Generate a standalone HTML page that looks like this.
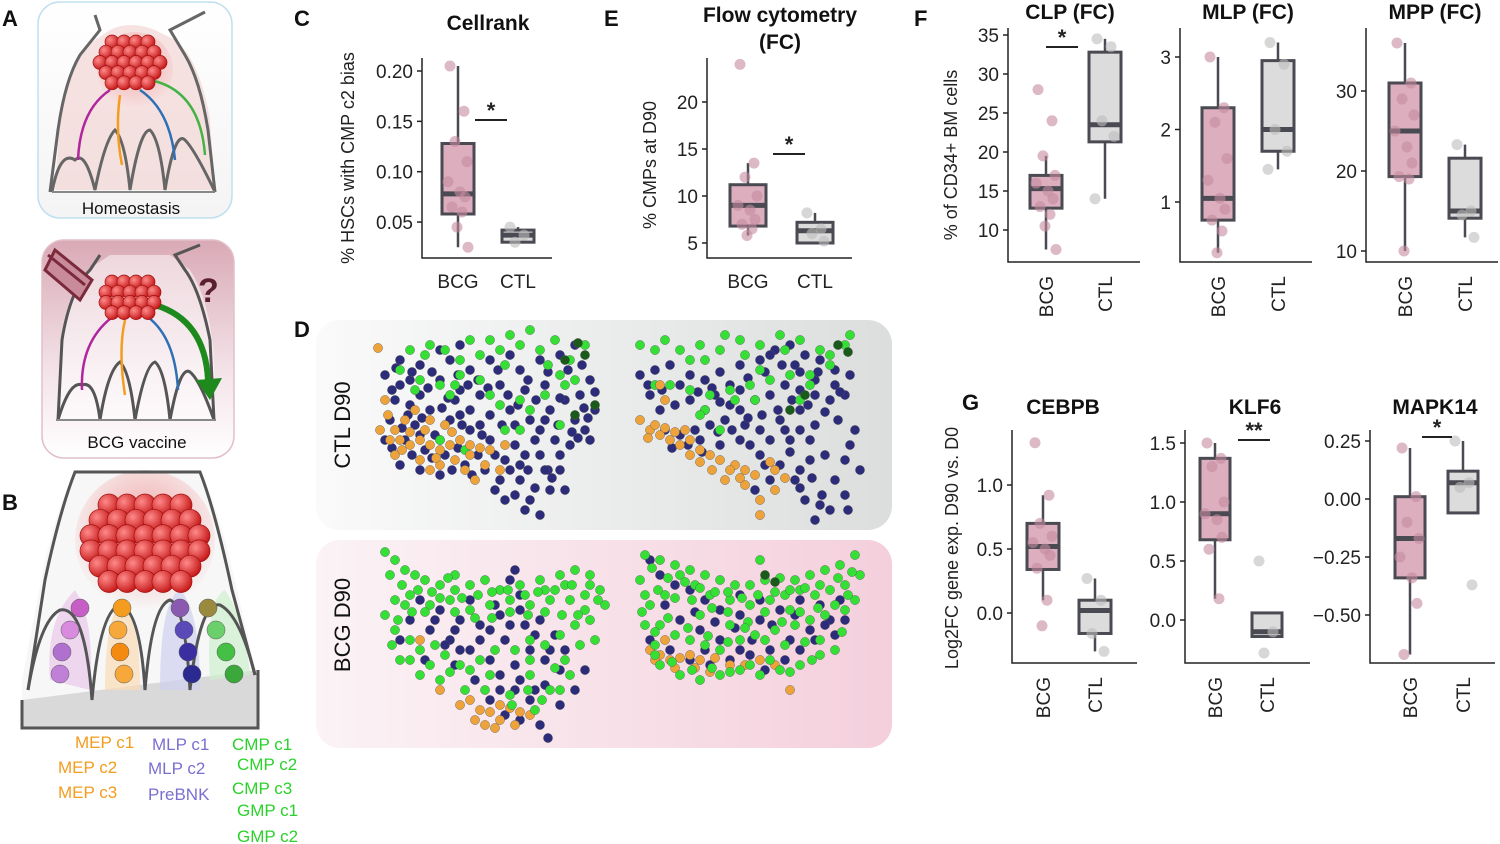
<!DOCTYPE html>
<html><head><meta charset="utf-8">
<style>
html,body{margin:0;padding:0;background:#fff;}
svg{display:block;font-family:"Liberation Sans",Arial,sans-serif;}
</style></head>
<body>
<svg id="fig" width="1500" height="844" viewBox="0 0 1500 844" xmlns="http://www.w3.org/2000/svg">
<defs>
<linearGradient id="gA" x1="0" y1="0" x2="0" y2="1"><stop offset="0" stop-color="#fff"/><stop offset="1" stop-color="#f4f4f4"/></linearGradient>
<linearGradient id="gA2" x1="0" y1="0" x2="0" y2="1"><stop offset="0" stop-color="#d9a9b6"/><stop offset="0.6" stop-color="#f3e3e8"/><stop offset="1" stop-color="#fff"/></linearGradient>
<linearGradient id="gD1" x1="0" y1="0" x2="1" y2="0"><stop offset="0" stop-color="#fafafa"/><stop offset="1" stop-color="#dcdede"/></linearGradient>
<linearGradient id="gD2" x1="0" y1="0" x2="1" y2="0"><stop offset="0" stop-color="#fbf3f6"/><stop offset="1" stop-color="#f4cfdc"/></linearGradient>
<radialGradient id="ball" cx="0.35" cy="0.35" r="0.7"><stop offset="0" stop-color="#ff8a8a"/><stop offset="1" stop-color="#c41414"/></radialGradient>
<radialGradient id="glow" cx="0.5" cy="0.4" r="0.6"><stop offset="0" stop-color="#f2a5a5"/><stop offset="1" stop-color="#f2a5a5" stop-opacity="0"/></radialGradient>
</defs>

<g font-weight="bold" font-size="22" fill="#111">
<text x="2" y="26">A</text>
<text x="2" y="510">B</text>
<text x="294" y="26">C</text>
<text x="294" y="337">D</text>
<text x="604" y="26">E</text>
<text x="914" y="26">F</text>
<text x="962" y="410">G</text>
</g>

<g>
<rect x="38" y="2" width="194" height="216" rx="22" fill="url(#gA)" stroke="#bfe0f0" stroke-width="1.5"/>
<path d="M55 190 L60 120 Q70 60 95 40 L110 30 Q130 20 155 30 L175 40 Q200 60 210 120 L215 190 Z" fill="#f3d6d6" opacity="0.7"/>
<path d="M50 192 L58 130 Q65 80 80 55 L100 30 L95 15 M215 192 L208 130 Q200 80 185 55 L170 30 L205 12" fill="none" stroke="#666" stroke-width="3"/>
<path d="M52 192 Q60 150 75 160 Q85 150 95 190 Q105 140 115 130 Q125 140 130 190 Q140 130 150 130 Q160 140 165 190 Q175 130 185 140 Q195 150 215 192 L215 192" fill="none" stroke="#666" stroke-width="3"/>
<path d="M52 192 L215 192" stroke="#888" stroke-width="2"/>
<circle cx="135" cy="70" r="38" fill="url(#glow)"/>
<path d="M110 90 Q80 110 78 160" stroke="#b0269c" stroke-width="2.5" fill="none"/>
<path d="M120 95 Q115 130 122 165" stroke="#f39c1f" stroke-width="2.5" fill="none"/>
<path d="M140 90 Q170 110 175 160" stroke="#2e6fb5" stroke-width="2.5" fill="none"/>
<path d="M150 80 Q200 90 205 155" stroke="#44b244" stroke-width="2.5" fill="none"/>
<text x="131" y="214" font-size="17" text-anchor="middle" fill="#111">Homeostasis</text>
</g>
<g>
<rect x="42" y="240" width="192" height="218" rx="22" fill="url(#gA2)" stroke="#e2bfc9" stroke-width="1.5"/>
<path d="M58 420 L62 330 Q72 280 95 265 L110 255 L170 255 L190 270 Q210 300 214 360 L216 420 Z" fill="#fff" opacity="0.5"/>
<path d="M58 420 L62 340 Q70 290 90 270 L100 255 M214 420 L210 340 Q200 290 185 270 L175 255 L200 245" fill="none" stroke="#555" stroke-width="3"/>
<path d="M58 420 Q70 380 82 385 Q95 380 100 420 Q108 370 120 362 Q130 372 135 420 Q145 365 155 362 Q165 370 170 420 Q180 365 190 372 Q200 380 214 420" fill="none" stroke="#555" stroke-width="3"/>
<path d="M56 420 L216 420" stroke="#888" stroke-width="2"/>
<path d="M115 315 Q80 340 82 390" stroke="#b0269c" stroke-width="2.5" fill="none"/>
<path d="M125 320 Q118 350 125 395" stroke="#f39c1f" stroke-width="2.5" fill="none"/>
<path d="M145 315 Q175 335 178 390" stroke="#2e6fb5" stroke-width="2.5" fill="none"/>
<path d="M155 305 Q205 320 208 380" stroke="#1e8a1e" stroke-width="6" fill="none"/>
<polygon points="196,380 222,378 210,400" fill="#1e8a1e"/>
<path d="M48 255 L85 285 M55 250 L92 280 L80 300 L45 270 Z" stroke="#7a2a3a" stroke-width="3" fill="#c98a9a"/>
<text x="198" y="302" font-size="34" font-weight="bold" fill="#5a1f2e">?</text>
<text x="137" y="448" font-size="17" text-anchor="middle" fill="#111">BCG vaccine</text>
</g>

<g>
<path d="M22 720 L22 680 L45 560 Q60 500 75 470 L200 470 Q215 500 230 560 L258 680 L258 720 Z" fill="#f7f7f7"/>
<path d="M22 728 L258 728 L258 670 L22 700 Z" fill="#d9d9d9"/>
<circle cx="145" cy="540" r="70" fill="url(#glow)"/>
<path d="M50 680 Q45 620 75 590 Q95 620 90 690 Z" fill="#e8c8ea" opacity="0.7"/>
<path d="M105 690 Q105 610 125 600 Q140 620 140 690 Z" fill="#fbdcb5" opacity="0.7"/>
<path d="M160 690 Q160 600 180 590 Q200 610 200 690 Z" fill="#cfd0f0" opacity="0.7"/>
<path d="M210 680 Q205 600 225 590 Q245 620 250 675 Z" fill="#cdeecd" opacity="0.7"/>
<path d="M28 690 L45 580 Q60 510 75 472 L200 472 Q215 510 232 590 L255 675" fill="none" stroke="#555" stroke-width="3"/>
<path d="M28 690 Q40 620 60 610 Q85 605 92 700 Q100 610 120 605 Q140 610 145 690 Q152 605 170 600 Q185 605 190 690 Q200 600 220 605 Q240 615 255 675" fill="none" stroke="#555" stroke-width="3"/>
<path d="M22 700 L22 728 L258 728 L258 670" fill="none" stroke="#555" stroke-width="3"/>
</g>
<g id="balls"></g>
<g font-size="17">
<text x="75" y="748" fill="#f39c1f">MEP c1</text>
<text x="58" y="773" fill="#f39c1f">MEP c2</text>
<text x="58" y="798" fill="#f39c1f">MEP c3</text>
<text x="152" y="750" fill="#7a6fcf">MLP c1</text>
<text x="148" y="774" fill="#7a6fcf">MLP c2</text>
<text x="148" y="800" fill="#7a6fcf">PreBNK</text>
<text x="232" y="750" fill="#2bd22b">CMP c1</text>
<text x="237" y="770" fill="#2bd22b">CMP c2</text>
<text x="232" y="794" fill="#2bd22b">CMP c3</text>
<text x="237" y="816" fill="#2bd22b">GMP c1</text>
<text x="237" y="842" fill="#2bd22b">GMP c2</text>
</g>

<rect x="316" y="320" width="576" height="210" rx="24" fill="url(#gD1)"/>
<rect x="316" y="540" width="576" height="208" rx="24" fill="url(#gD2)"/>
<text transform="translate(350,425) rotate(-90)" font-size="22" text-anchor="middle" fill="#111">CTL D90</text>
<text transform="translate(350,625) rotate(-90)" font-size="22" text-anchor="middle" fill="#111">BCG D90</text>
<g id="umap"></g>
<g id="plots"></g>
</svg>

<script>
// ---------- Box plot data: [min, q1, median, q3, max] ----------
const cellrankBCG = [0.025, 0.058, 0.078, 0.128, 0.205];
const cellrankCTL = [0.03, 0.03, 0.037, 0.042, 0.045];
const cellrankPtsBCG = [0.205, 0.16, 0.13, 0.11, 0.09, 0.08, 0.075, 0.065, 0.06, 0.045, 0.025];
const cellrankPtsCTL = [0.045, 0.037, 0.03];
const flowBCG = [5.8, 6.8, 9, 11.2, 13.5];
const flowCTL = [5, 5, 6.3, 7.2, 8.2];
const flowPtsBCG = [24, 13.5, 12, 10, 9, 8.5, 7.5, 7, 6.5, 5.8];
const flowPtsCTL = [8.2, 6.5, 6, 5.2];
const clpBCG = [7.5, 12.8, 15.3, 17, 19.5];
const clpCTL = [14, 21.3, 23.5, 32.8, 34.5];
const clpPtsBCG = [28, 24, 19.5, 17, 16, 15, 14, 13, 12, 10.5, 7.5];
const clpPtsCTL = [34.5, 33.5, 24, 22, 14];
const mlpBCG = [0.3, 0.75, 1.05, 2.3, 3.0];
const mlpCTL = [1.45, 1.7, 2.0, 2.95, 3.2];
const mlpPtsBCG = [3.0, 2.3, 2.1, 1.6, 1.3, 1.05, 0.9, 0.75, 0.6, 0.3];
const mlpPtsCTL = [3.2, 2.9, 2.0, 1.7, 1.45];
const mppBCG = [10, 19.3, 25, 31, 36];
const mppCTL = [11.7, 14.1, 15, 21.6, 23.3];
const mppPtsBCG = [36, 31, 29, 27, 25, 23, 21, 19.3, 19, 10];
const mppPtsCTL = [23.3, 15, 14.5, 11.7];
const cebpbBCG = [0.1, 0.34, 0.52, 0.7, 0.92];
const cebpbCTL = [-0.3, -0.16, 0.02, 0.1, 0.27];
const cebpbPtsBCG = [1.33, 0.92, 0.7, 0.6, 0.55, 0.5, 0.45, 0.35, 0.1, -0.1];
const cebpbPtsCTL = [0.27, 0.1, -0.16, -0.3];
const klf6BCG = [0.18, 0.68, 0.9, 1.37, 1.5];
const klf6CTL = [-0.14, -0.14, -0.1, 0.06, 0.06];
const klf6PtsBCG = [1.5, 1.37, 1.3, 1.0, 0.9, 0.85, 0.7, 0.6, 0.18];
const klf6PtsCTL = [0.5, -0.1, -0.28];
const mapkBCG = [-0.67, -0.34, -0.17, 0.01, 0.22];
const mapkCTL = [-0.06, -0.06, 0.07, 0.12, 0.25];
const mapkPtsBCG = [0.22, 0.01, -0.1, -0.17, -0.25, -0.34, -0.45, -0.67];
const mapkPtsCTL = [0.25, 0.07, 0.05, -0.37];

// ---------- UMAP points ----------
const ctlLeftNavy = "385,375 400,385 420,395 440,380 460,390 480,395 500,385 520,370 540,360 560,355 575,345 590,380 595,410 585,430 570,445 560,470 550,490 540,515 530,500 520,480 505,460 490,440 470,430 450,420 430,410 410,405 395,400 390,420 405,440 425,450 445,455 465,465 485,470 500,480 515,445 530,420 550,410 565,400 580,395 555,440 540,455 520,465 510,410 490,415 470,410 455,400 435,435 415,425 385,440 400,465 420,470 440,475 525,390 545,385 510,355 490,360 470,370 450,360 420,365 440,350 460,345 400,360 575,420 590,440 565,490 548,470 535,440 515,425 480,425 460,415";
const ctlLeftNavy2 = "392,390 410,380 428,388 448,398 468,385 488,388 508,395 528,380 548,372 568,370 582,365 595,392 588,418 578,438 560,455 552,478 535,488 525,510 515,495 510,470 495,455 478,455 458,448 440,440 420,435 402,428 392,448 412,455 432,458 452,470 472,475 495,490 505,500 525,455 540,430 558,425 572,432 545,420 502,425 482,435 462,425 442,408 422,418 408,415 518,405 536,400 498,370 478,380 458,375 432,372 412,372 396,368 584,408 560,398 545,470 528,470";
const ctlLeftGreen = "430,345 445,350 460,360 480,355 500,350 520,345 540,350 555,340 570,360 560,375 545,395 520,400 500,405 480,380 460,375 440,385 420,380 400,370 410,350 470,340 510,335 530,330 585,345 575,380 490,395 450,395 415,390 530,410 560,425 520,430 440,440 465,450 505,430 425,355 490,340 548,365 565,385 455,385 505,365";
const ctlLeftOrange = "378,348 385,400 395,430 400,440 410,445 420,440 430,445 440,450 450,445 460,440 470,445 480,448 490,450 420,460 405,420 415,410 430,420 445,425 455,460 465,470 475,480 485,465 500,470 430,470 395,455 440,465 505,445 380,430 388,415 410,432 425,430 452,432 470,455 390,440 402,450 436,458";
const ctlLeftDark = "578,343 585,355 565,360 595,405 575,415";
const ctlRightNavy = "640,375 655,370 670,365 690,375 705,380 720,372 740,365 760,360 775,350 790,345 805,355 820,360 835,370 850,375 845,395 830,400 815,395 800,390 785,385 770,395 755,400 740,410 725,420 710,425 695,430 680,435 665,430 700,440 720,445 740,440 760,430 780,420 800,410 790,440 780,465 795,480 805,500 815,520 830,510 845,495 860,470 845,460 825,455 810,460 800,470 770,480 760,455 745,425 730,405 715,395 690,400 675,405 650,395 660,410 770,355 795,365 815,380 835,385 855,430";
const ctlRightNavy2 = "648,385 662,390 680,385 698,392 712,388 730,385 748,378 765,372 782,365 800,372 818,372 840,392 825,412 808,405 792,400 778,410 762,415 748,418 732,430 718,432 702,452 688,445 672,448 750,445 770,440 790,452 800,488 812,478 822,495 835,480 850,445 838,420 815,425 800,430 785,430 765,465 755,490 820,505 848,510 810,440 740,390 720,402 705,410";
const ctlRightGreen = "640,345 655,350 665,340 680,350 700,345 720,350 740,340 760,345 780,335 800,340 820,350 845,345 850,335 830,365 810,375 790,375 770,380 750,385 730,390 710,395 690,390 670,385 655,385 705,360 725,335 760,370 705,410 720,430 700,415 690,360 745,355 785,350 830,355 810,385 755,400 735,400 800,400";
const ctlRightOrange = "640,420 650,430 660,435 670,440 680,445 690,440 700,450 710,455 720,460 735,465 745,470 755,475 775,470 785,478 775,490 760,500 745,485 725,480 690,455 665,400 660,385 648,438 760,515 730,470 655,425 665,428 675,432 685,430 700,462 712,470 740,478 770,462";
const ctlRightDark = "838,345 848,352 805,395 790,410";
const bcgLeftNavy = "420,600 440,610 460,620 480,625 500,615 520,610 540,620 555,635 565,650 560,670 545,685 530,700 515,690 500,675 490,660 470,650 450,640 430,630 410,620 400,640 425,660 455,665 475,680 490,700 505,715 520,720 540,725 548,738 560,705 575,690 585,670 470,600 510,580 515,570 520,595 480,640 505,640 530,650 545,660 435,620 455,630 490,630 510,625 525,625 535,635 550,650 515,665 500,690 520,680 535,690 460,650 445,645 495,605";
const bcgLeftGreen = "385,552 395,560 405,570 415,575 425,580 440,585 455,590 470,585 485,580 500,590 520,585 540,580 560,575 575,570 590,575 600,590 605,605 585,610 570,600 550,600 530,605 510,600 490,605 470,610 450,600 430,605 410,595 395,600 385,615 395,630 410,640 420,650 435,645 445,655 460,665 480,660 495,650 515,650 530,640 545,645 560,635 575,625 590,620 580,645 565,660 550,690 535,710 510,695 485,690 465,690 440,680 420,675 400,660 405,605 455,575 545,590 565,585 595,640 530,675 390,575 402,585 418,590 432,592 448,578 462,598 478,595 492,592 508,590 525,595 538,592 555,590 572,585 585,595 598,600 590,585 578,615 562,615 545,612 528,615 510,612 492,618 475,618 455,612 440,598 425,612 412,612 398,620 392,645 410,660 430,665 450,672 470,670 490,675 530,660 555,668 570,675 560,690 542,700 528,690 512,705";
const bcgLeftOrange = "470,700 480,710 490,712 500,705 510,708 520,712 500,720 485,725 530,715 440,690 420,640 515,725 475,720 495,728 460,705";
const bcgRightNavy = "650,560 660,575 675,585 690,590 705,600 720,610 740,615 760,620 780,610 800,600 820,605 840,600 830,620 810,630 790,640 770,650 750,655 730,660 710,665 690,660 670,650 650,640 700,630 720,640 760,600 740,595 785,660 765,670 800,650 815,640 835,635 680,620 665,605 695,612 715,622 735,628 752,640 772,625 795,615 825,625 845,620 705,650 740,650";
const bcgRightGreen = "645,555 660,560 675,565 690,570 705,575 720,580 735,585 750,585 765,580 780,578 795,580 810,575 825,570 840,565 855,555 860,575 845,585 830,590 815,595 800,590 785,595 770,600 750,605 730,600 710,595 695,585 680,575 665,595 650,605 645,625 660,625 675,635 690,640 705,645 720,650 740,640 755,635 775,630 795,625 810,620 825,615 845,610 855,600 835,650 820,655 800,665 780,670 760,675 740,670 720,675 700,680 680,675 660,665 700,615 730,625 790,610 760,560 655,645 640,580 652,568 668,578 685,582 700,588 715,592 728,592 742,598 758,595 775,592 790,590 805,588 820,585 838,578 852,572 848,595 835,605 818,608 800,612 782,622 765,612 748,622 728,612 712,608 692,600 675,598 658,590 645,595 642,612 655,632 668,618 688,628 708,636 728,642 745,628 765,640 785,645 805,642 820,640 842,632 812,660 790,672 770,660 750,665 730,672 712,668 692,670 672,662 655,655";
const bcgRightOrange = "650,650 660,655 670,660 680,658 690,655 700,660 715,658 730,665 745,665 760,660 775,665 790,690 665,640 655,660 675,668 695,668 710,672";
const bcgRightDark = "765,575 775,582";

const NS = "http://www.w3.org/2000/svg";
function mk(tag, attrs, parent) {
  const e = document.createElementNS(NS, tag);
  for (const k in attrs) e.setAttribute(k, attrs[k]);
  parent.appendChild(e);
  return e;
}

const ballsG = document.getElementById('balls');
function cluster(cx, cy, cols, rows, r, step) {
  for (let j = 0; j < rows; j++) {
    const n = Math.max(1, Math.round(cols - Math.abs(j - (rows - 1) / 2)));
    for (let i = 0; i < n; i++) {
      const c = mk('circle', {cx: cx + (i - (n - 1) / 2) * step, cy: cy + j * step * 0.85, r: r, fill: 'url(#ball)', stroke: '#a01010', 'stroke-width': 0.7}, ballsG);
      
      
    }
  }
}
cluster(130, 42, 6, 5, 7, 12);
cluster(130, 282, 5, 4, 7, 12);
cluster(145, 505, 7, 6, 11, 18);
const tailColors = [['#c65ec6', '#d98be0', '#b070d0', '#c080d8'], ['#f39c1f', '#f7a83a', '#f58a10', '#f7a83a'], ['#8a5ab0', '#5a4ab8', '#3a2ea0', '#2a2a90'], ['#9a8a40', '#6bd06b', '#44c044', '#3aa83a']];
const tailX = [[80, 70, 62, 60], [122, 118, 120, 124], [180, 184, 188, 192], [208, 216, 226, 234]];
for (let t = 0; t < 4; t++) {
  for (let k = 0; k < 4; k++) {
    const b = mk('circle', {cx: tailX[t][k], cy: 608 + k * 22, r: 9, fill: tailColors[t][k], stroke: '#555', 'stroke-width': 0.5}, ballsG);
    
    
  }
}

const um = document.getElementById('umap');
function dots(str, color, name) {
  str.trim().split(/\s+/).forEach(p => {
    const [x, y] = p.split(',').map(Number);
    const c = mk('circle', {cx: x, cy: y, r: 4.6, fill: color, stroke: '#555', 'stroke-width': 0.4}, um);
    
    
  });
}
dots(ctlLeftNavy, '#2c2c7a', 'umap-point-mlp');
dots(ctlLeftNavy2, '#2c2c7a', 'umap-point-mlp');
dots(ctlLeftGreen, '#33e033', 'umap-point-cmp');
dots(ctlLeftOrange, '#eea33a', 'umap-point-mep');
dots(ctlLeftDark, '#1a5a1a', 'umap-point-gmp');
dots(ctlRightNavy, '#2c2c7a', 'umap-point-mlp');
dots(ctlRightNavy2, '#2c2c7a', 'umap-point-mlp');
dots(ctlRightGreen, '#33e033', 'umap-point-cmp');
dots(ctlRightOrange, '#eea33a', 'umap-point-mep');
dots(ctlRightDark, '#1a5a1a', 'umap-point-gmp');
dots(bcgLeftNavy, '#2c2c7a', 'umap-point-mlp');
dots(bcgLeftOrange, '#eea33a', 'umap-point-mep');
dots(bcgLeftGreen, '#33e033', 'umap-point-cmp');
dots(bcgRightNavy, '#2c2c7a', 'umap-point-mlp');
dots(bcgRightOrange, '#eea33a', 'umap-point-mep');
dots(bcgRightGreen, '#33e033', 'umap-point-cmp');
dots(bcgRightDark, '#1a5a1a', 'umap-point-gmp');

const plotsG = document.getElementById('plots');
const jitter = [-8, 6, -3, 9, -10, 2, 7, -6, 4, -1, 10];
function boxPlot(cfg) {
  const g = mk('g', {}, plotsG);
  
  
  const y = v => cfg.y0 + (cfg.v0 - v) * cfg.k;
  const ax = mk('path', {d: `M${cfg.ax} ${cfg.top} L${cfg.ax} ${cfg.bot} L${cfg.ax2} ${cfg.bot}`, fill: 'none', stroke: '#222', 'stroke-width': 1.5}, g);
  
  
  cfg.ticks.forEach((t, i) => {
    const ty = y(t);
    const tk = mk('line', {x1: cfg.ax - 5, x2: cfg.ax, y1: ty, y2: ty, stroke: '#222', 'stroke-width': 1.5}, g);
    
    
    const tl = mk('text', {x: cfg.ax - 9, y: ty + 7, 'text-anchor': 'end', 'font-size': 19, fill: '#222'}, g);
    tl.textContent = cfg.tickLabels[i];
    
    
  });
  const groups = [[cfg.bcg, cfg.ptsB, cfg.xB, '#dcaebe', 'BCG'], [cfg.ctl, cfg.ptsC, cfg.xC, '#dcdcdc', 'CTL']];
  groups.forEach(([s, pts, cx, fill, lab]) => {
    const hw = cfg.hw;
    const w = mk('line', {x1: cx, x2: cx, y1: y(s[0]), y2: y(s[4]), stroke: '#4a4a52', 'stroke-width': 2.5}, g);
    
    
    const r = mk('rect', {x: cx - hw, y: y(s[3]), width: 2 * hw, height: Math.max(1, y(s[1]) - y(s[3])), fill: fill, stroke: '#4a4a52', 'stroke-width': 3}, g);
    
    
    const m = mk('line', {x1: cx - hw, x2: cx + hw, y1: y(s[2]), y2: y(s[2]), stroke: '#4a4a52', 'stroke-width': 5}, g);
    
    
    pts.forEach((v, i) => {
      const p = mk('circle', {cx: cx + jitter[i % jitter.length], cy: y(v), r: 5.5, fill: lab === 'BCG' ? '#c48a9f' : '#bdbdbd', 'fill-opacity': 0.6}, g);
      
      
    });
    let t;
    if (cfg.rotX) {
      t = mk('text', {transform: `translate(${cx + 7},${cfg.bot + 14}) rotate(-90)`, 'text-anchor': 'end', 'font-size': 19, fill: '#222'}, g);
    } else {
      t = mk('text', {x: cx, y: cfg.bot + 30, 'text-anchor': 'middle', 'font-size': 19, fill: '#222'}, g);
    }
    t.textContent = lab;
    
    
  });
  (cfg.titles || []).forEach((tt, i) => {
    const t = mk('text', {x: cfg.tx, y: cfg.ty + i * 27, 'text-anchor': 'middle', 'font-size': 21, 'font-weight': 'bold', fill: '#111'}, g);
    t.textContent = tt;
    
    
  });
  if (cfg.ylab) {
    const t = mk('text', {transform: `translate(${cfg.ylx},${cfg.yly}) rotate(-90)`, 'text-anchor': 'middle', 'font-size': 18, fill: '#222'}, g);
    t.textContent = cfg.ylab;
    
    
  }
  if (cfg.sig) {
    const [x1, x2, sy, star] = cfg.sig;
    const l = mk('line', {x1: x1, x2: x2, y1: sy, y2: sy, stroke: '#222', 'stroke-width': 2}, g);
    
    
    const s = mk('text', {x: (x1 + x2) / 2, y: sy - 2, 'text-anchor': 'middle', 'font-size': 22, 'font-weight': 'bold', fill: '#222'}, g);
    s.textContent = star;
    
    
  }
}

boxPlot({name: 'cellrank-plot', ax: 422, ax2: 552, top: 58, bot: 258, y0: 71, v0: 0.20, k: 1007, ticks: [0.20, 0.15, 0.10, 0.05], tickLabels: ['0.20', '0.15', '0.10', '0.05'],
  bcg: cellrankBCG, ctl: cellrankCTL, ptsB: cellrankPtsBCG, ptsC: cellrankPtsCTL, xB: 458, xC: 518, hw: 16,
  titles: ['Cellrank'], tx: 488, ty: 30, ylab: '% HSCs with CMP c2 bias', ylx: 354, yly: 158, sig: [475, 507, 120, '*']});
boxPlot({name: 'flow-cytometry-plot', ax: 707, ax2: 852, top: 58, bot: 258, y0: 102, v0: 20, k: 9.4, ticks: [20, 15, 10, 5], tickLabels: ['20', '15', '10', '5'],
  bcg: flowBCG, ctl: flowCTL, ptsB: flowPtsBCG, ptsC: flowPtsCTL, xB: 748, xC: 815, hw: 18,
  titles: ['Flow cytometry', '(FC)'], tx: 780, ty: 22, ylab: '% CMPs at D90', ylx: 656, yly: 165, sig: [773, 805, 154, '*']});
boxPlot({name: 'clp-plot', ax: 1008, ax2: 1140, top: 28, bot: 262, y0: 35, v0: 35, k: 7.8, ticks: [35, 30, 25, 20, 15, 10], tickLabels: ['35', '30', '25', '20', '15', '10'],
  bcg: clpBCG, ctl: clpCTL, ptsB: clpPtsBCG, ptsC: clpPtsCTL, xB: 1046, xC: 1105, hw: 16, rotX: true,
  titles: ['CLP (FC)'], tx: 1070, ty: 19, ylab: '% of CD34+ BM cells', ylx: 957, yly: 155, sig: [1046, 1078, 47, '*']});
boxPlot({name: 'mlp-plot', ax: 1180, ax2: 1312, top: 28, bot: 262, y0: 57, v0: 3, k: 72.5, ticks: [3, 2, 1], tickLabels: ['3', '2', '1'],
  bcg: mlpBCG, ctl: mlpCTL, ptsB: mlpPtsBCG, ptsC: mlpPtsCTL, xB: 1218, xC: 1278, hw: 16, rotX: true,
  titles: ['MLP (FC)'], tx: 1248, ty: 19});
boxPlot({name: 'mpp-plot', ax: 1366, ax2: 1498, top: 28, bot: 262, y0: 91, v0: 30, k: 8, ticks: [30, 20, 10], tickLabels: ['30', '20', '10'],
  bcg: mppBCG, ctl: mppCTL, ptsB: mppPtsBCG, ptsC: mppPtsCTL, xB: 1405, xC: 1465, hw: 16, rotX: true,
  titles: ['MPP (FC)'], tx: 1435, ty: 19});
boxPlot({name: 'cebpb-plot', ax: 1012, ax2: 1137, top: 430, bot: 663, y0: 613, v0: 0, k: 128, ticks: [1.0, 0.5, 0.0], tickLabels: ['1.0', '0.5', '0.0'],
  bcg: cebpbBCG, ctl: cebpbCTL, ptsB: cebpbPtsBCG, ptsC: cebpbPtsCTL, xB: 1043, xC: 1095, hw: 16, rotX: true,
  titles: ['CEBPB'], tx: 1063, ty: 414, ylab: 'Log2FC gene exp. D90 vs. D0', ylx: 958, yly: 548});
boxPlot({name: 'klf6-plot', ax: 1185, ax2: 1310, top: 430, bot: 663, y0: 620, v0: 0, k: 118, ticks: [1.5, 1.0, 0.5, 0.0], tickLabels: ['1.5', '1.0', '0.5', '0.0'],
  bcg: klf6BCG, ctl: klf6CTL, ptsB: klf6PtsBCG, ptsC: klf6PtsCTL, xB: 1215, xC: 1267, hw: 15, rotX: true,
  titles: ['KLF6'], tx: 1255, ty: 414, sig: [1238, 1270, 440, '**']});
boxPlot({name: 'mapk14-plot', ax: 1370, ax2: 1495, top: 430, bot: 663, y0: 499, v0: 0, k: 232, ticks: [0.25, 0.0, -0.25, -0.5], tickLabels: ['0.25', '0.00', '\u22120.25', '\u22120.50'],
  bcg: mapkBCG, ctl: mapkCTL, ptsB: mapkPtsBCG, ptsC: mapkPtsCTL, xB: 1410, xC: 1463, hw: 15, rotX: true,
  titles: ['MAPK14'], tx: 1435, ty: 414, sig: [1422, 1452, 437, '*']});
</script>
</body></html>
